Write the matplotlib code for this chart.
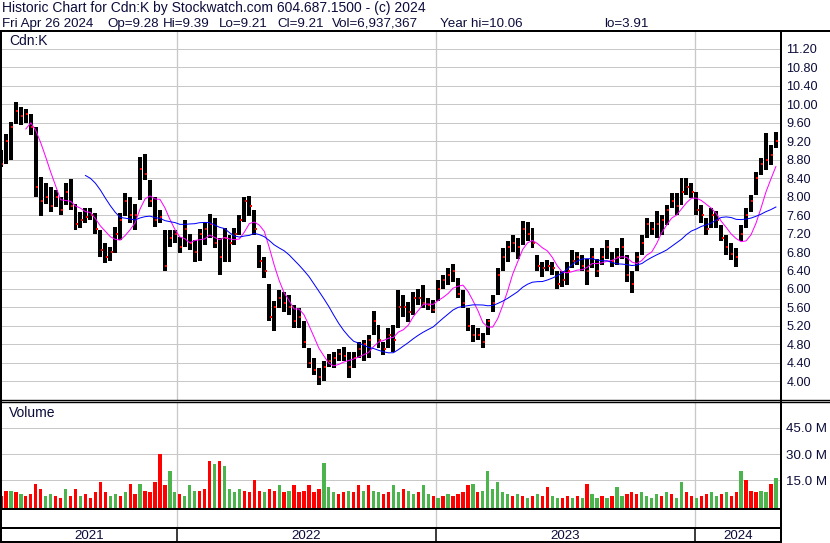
import numpy as np
import pandas as pd
import matplotlib
matplotlib.use("Agg")
import matplotlib.pyplot as plt
import matplotlib.dates as mdates
from matplotlib.lines import Line2D

plt.rcParams['font.family'] = ['Liberation Sans', 'DejaVu Sans']

# ---------------- data (weekly) ----------------
first_week = "2021-04-28"   # mid-week date of the first weekly bar
n_weeks = 157

high = [9.0, 9.35, 9.62, 10.06, 9.94, 9.9, 9.8, 9.5, 8.43, 8.29, 8.2, 8.14, 8.0, 8.29, 8.39, 7.85,
        7.67, 7.75, 7.75, 7.64, 7.28, 7.0, 6.92, 7.35, 7.64, 8.07, 8.0, 7.85, 8.86, 8.93, 8.36, 8.0,
        7.71, 7.28, 7.28, 7.28, 7.13, 7.5, 7.2, 7.06, 7.3, 7.46, 7.62, 7.53, 7.1, 7.31, 7.17, 7.31,
        7.6, 8.0, 8.01, 7.71, 6.95, 6.7, 6.1, 5.75, 5.98, 5.94, 5.87, 5.65, 5.58, 5.3, 4.72, 4.5,
        4.28, 4.43, 4.6, 4.64, 4.71, 4.75, 4.64, 4.64, 4.86, 4.9, 5.0, 5.52, 5.22, 4.86, 5.15, 5.22,
        5.98, 5.87, 5.72, 5.94, 6.01, 6.09, 5.8, 5.76, 6.2, 6.3, 6.45, 6.54, 6.23, 5.98, 5.58, 5.22,
        5.15, 5.04, 5.36, 5.87, 6.45, 6.88, 7.03, 7.17, 7.1, 7.47, 7.46, 7.31, 6.74, 6.59, 6.63, 6.59,
        6.38, 6.38, 6.59, 6.84, 6.81, 6.74, 6.66, 6.88, 6.66, 6.88, 7.05, 6.81, 6.88, 7.1, 6.74, 6.38,
        6.81, 7.17, 7.53, 7.46, 7.68, 7.6, 7.82, 8.07, 8.07, 8.4, 8.4, 8.29, 8.11, 7.82, 7.53, 7.75,
        7.68, 7.39, 7.17, 7.0, 6.88, 7.39, 7.75, 8.04, 8.54, 8.83, 9.37, 9.12, 9.39]

low = [8.65, 8.7, 8.8, 9.58, 9.55, 9.6, 9.33, 8.0, 7.57, 7.85, 7.67, 7.78, 7.6, 7.82, 7.71, 7.28,
       7.31, 7.42, 7.5, 7.2, 6.7, 6.56, 6.6, 6.77, 7.06, 7.57, 7.42, 7.28, 7.93, 8.36, 7.78, 7.35,
       7.42, 6.38, 6.92, 6.99, 6.77, 6.92, 6.85, 6.59, 6.6, 6.95, 7.1, 6.88, 6.3, 6.59, 6.59, 6.95,
       7.17, 7.46, 7.57, 7.17, 6.45, 6.23, 5.3, 5.1, 5.58, 5.51, 5.44, 5.15, 5.15, 4.72, 4.28, 4.14,
       3.91, 4.0, 4.32, 4.28, 4.43, 4.43, 4.07, 4.28, 4.5, 4.43, 4.5, 5.0, 4.72, 4.57, 4.72, 4.64,
       5.15, 5.4, 5.29, 5.44, 5.65, 5.58, 5.55, 5.47, 5.73, 6.01, 6.09, 6.16, 5.8, 5.58, 5.08, 4.86,
       4.9, 4.72, 5.0, 5.51, 5.87, 6.38, 6.59, 6.81, 6.66, 6.95, 7.03, 6.88, 6.38, 6.27, 6.38, 6.3,
       6.01, 6.05, 6.09, 6.45, 6.52, 6.38, 6.09, 6.45, 6.27, 6.52, 6.66, 6.48, 6.52, 6.66, 6.16, 5.91,
       6.38, 6.74, 7.1, 7.17, 7.1, 7.17, 7.38, 7.75, 7.6, 7.82, 8.04, 7.96, 7.6, 7.42, 7.17, 7.31,
       7.31, 7.03, 6.74, 6.63, 6.48, 7.03, 7.31, 7.67, 8.04, 8.47, 8.58, 8.69, 9.05]

close = [8.7, 9.2, 9.5, 9.85, 9.75, 9.8, 9.5, 8.2, 7.9, 8.0, 7.8, 8.0, 7.7, 8.1, 7.8, 7.4,
         7.5, 7.55, 7.6, 7.3, 6.85, 6.7, 6.8, 7.2, 7.5, 7.9, 7.6, 7.6, 8.6, 8.5, 7.9, 7.5,
         7.55, 6.5, 7.1, 7.2, 6.9, 7.3, 7.0, 6.8, 7.2, 7.3, 7.4, 7.0, 6.7, 7.1, 7.0, 7.2,
         7.5, 7.9, 7.8, 7.3, 6.6, 6.4, 5.4, 5.6, 5.8, 5.7, 5.6, 5.3, 5.4, 4.85, 4.4, 4.25,
         4.1, 4.3, 4.45, 4.5, 4.6, 4.55, 4.3, 4.5, 4.7, 4.8, 4.9, 5.3, 4.9, 4.7, 5.0, 4.9,
         5.6, 5.6, 5.5, 5.8, 5.8, 5.7, 5.65, 5.55, 6.0, 6.2, 6.3, 6.4, 5.9, 5.7, 5.2, 5.0,
         5.0, 4.85, 5.3, 5.7, 6.3, 6.7, 6.9, 7.0, 6.9, 7.3, 7.2, 7.0, 6.5, 6.45, 6.5, 6.45,
         6.1, 6.2, 6.4, 6.6, 6.7, 6.5, 6.4, 6.7, 6.4, 6.7, 6.9, 6.6, 6.7, 6.9, 6.3, 6.1,
         6.7, 7.0, 7.4, 7.3, 7.4, 7.5, 7.7, 7.9, 7.8, 8.1, 8.2, 8.1, 7.7, 7.6, 7.3, 7.6,
         7.5, 7.1, 6.9, 6.75, 6.7, 7.2, 7.6, 7.9, 8.4, 8.7, 8.8, 8.9, 9.21]

# volume in millions (typical daily height seen in each week) and up/down colour code
volume_m = [6, 9, 9, 8, 7, 6, 7, 13, 10, 6, 7, 6, 5, 10, 6, 10,
            6, 7, 5, 8, 14, 8, 6, 7, 6, 8, 13, 7, 13, 9, 8, 14,
            30, 12, 20, 8, 7, 6, 12, 9, 9, 10, 26, 24, 26, 23, 10, 8,
            10, 9, 8, 15, 9, 8, 10, 9, 12, 8, 9, 12, 8, 9, 12, 8,
            10, 25, 11, 8, 7, 8, 9, 8, 12, 9, 12, 9, 8, 7, 8, 12,
            8, 10, 9, 7, 8, 12, 7, 6, 5, 6, 7, 6, 7, 8, 12, 13,
            8, 9, 20, 10, 14, 8, 7, 6, 7, 6, 5, 6, 7, 6, 11, 6,
            5, 5, 6, 5, 6, 5, 13, 7, 5, 6, 5, 6, 11, 6, 7, 8,
            7, 8, 6, 5, 7, 6, 8, 7, 5, 14, 8, 6, 5, 6, 7, 8,
            6, 7, 8, 6, 8, 20, 15, 9, 8, 9, 8, 13, 16]
volume_dir = ("rrgrgrrrrggrrgrr" "grrrrrggrgrrgrrr" "rrggrgggrrrgrggg"
              "grrrrgrrgrgrrrrr" "rgggrrgrrgrggrrg" "grggrggrgrgrrrrg"
              "rggggggrgrgrgrrg" "grrgrgrggrgrggrr" "rggggrgrggrrgrrg"
              "grgrrgrrr" "ggrgrg")

price_ticks = [4.00, 4.40, 4.80, 5.20, 5.60, 6.00, 6.40, 6.80, 7.20, 7.60, 8.00,
               8.40, 8.80, 9.20, 9.60, 10.00, 10.40, 10.80, 11.20]
volume_ticks = [15, 30, 45]
year_labels = ["2021", "2022", "2023", "2024"]
year_starts = ["2022-01-01", "2023-01-01", "2024-01-01"]
x_range = ["2021-04-28", "2024-05-01 05:00"]

title_line1 = "Historic Chart for Cdn:K by Stockwatch.com 604.687.1500 - (c) 2024"
title_items = ["Fri Apr 26 2024", "Op=9.28", "Hi=9.39", "Lo=9.21", "Cl=9.21",
               "Vol=6,937,367", "Year hi=10.06", "lo=3.91"]
title_item_px = [2, 107, 163, 219, 277, 332, 440, 604]
symbol = "Cdn:K"

# ---------------- figure ----------------
W, H = 830, 543
fig = plt.figure(figsize=(W / 100, H / 100), dpi=100)
fig.patch.set_facecolor("white")
TXT = "#0c0c3a"
GRID = "#c8c8c8"
PT = 0.72  # points per pixel
FS = 10


def box(l, t, r, b):
    return [l / W, 1 - b / H, (r - l) / W, (b - t) / H]


dates = pd.date_range(first_week, periods=n_weeks, freq="7D")
xd = mdates.date2num(dates.to_pydatetime())
xlim = [mdates.date2num(pd.Timestamp(s).to_pydatetime()) for s in x_range]
ys = [mdates.date2num(pd.Timestamp(s).to_pydatetime()) for s in year_starts]

hi = np.array(high)
lo = np.array(low)
cl = pd.Series(close)
ma_fast = cl.rolling(6).mean()
ma_slow = cl.rolling(18).mean()

ax_p = fig.add_axes(box(1, 31, 781, 400))
ax_v = fig.add_axes(box(1, 402.5, 781, 508))
ax_b = fig.add_axes(box(1, 508, 781, 528))
ax_y = fig.add_axes(box(1, 528, 781, 542))

for ax in (ax_p, ax_v, ax_b, ax_y):
    ax.set_xlim(xlim)
    for s in ax.spines.values():
        s.set_visible(False)
    ax.set_xticks([])
    ax.set_facecolor("white")

# price panel
ax_p.set_ylim(3.595, 11.588)
ax_p.yaxis.tick_right()
ax_p.set_yticks(price_ticks)
ax_p.set_yticklabels([f"{v:.2f}" for v in price_ticks])
ax_p.tick_params(axis="y", length=0, pad=5.5 * PT, labelsize=9.1, labelcolor=TXT)
ax_p.grid(axis="y", color=GRID, lw=1.0 * PT)
ax_p.set_axisbelow(True)
for x in ys:
    ax_p.axvline(x, color=GRID, lw=1.3 * PT, zorder=0.5)
ax_p.bar(xd, hi - lo, bottom=lo, width=5.6, color="black", lw=0, zorder=2)
ax_p.plot(xd + 1.8, close, "s", ms=1.6, color="red", mew=0, zorder=3)
ax_p.plot(xd, ma_fast, color="#ff00ff", lw=1.0 * PT, zorder=4)
ax_p.plot(xd, ma_slow, color="#0000ff", lw=1.0 * PT, zorder=4)
ax_p.text(8 / 780, 1 - (41.3 - 31) / 369, symbol, transform=ax_p.transAxes,
          ha="left", va="center", fontsize=FS, color=TXT)

# volume panel
vbase = -1.0
ax_v.set_ylim(vbase, 59.6)
ax_v.yaxis.tick_right()
ax_v.set_yticks(volume_ticks)
ax_v.set_yticklabels([f"{v:.1f} M" for v in volume_ticks])
ax_v.tick_params(axis="y", length=0, pad=5 * PT, labelsize=9.6, labelcolor=TXT)
ax_v.grid(axis="y", color=GRID, lw=1.0 * PT)
ax_v.set_axisbelow(True)
for x in ys:
    ax_v.axvline(x, color=GRID, lw=1.3 * PT, zorder=0.5)
cmap = {"r": "#ff0000", "g": "#4cb44c"}
vcol = [cmap[c] for c in volume_dir]
vol = np.array(volume_m, dtype=float)
ax_v.bar(xd, vol - vbase, bottom=vbase, width=4.6, color=vcol, lw=0, zorder=2)
ax_v.text(8 / 780, 1 - (413 - 402.5) / 105.5, "Volume", transform=ax_v.transAxes,
          ha="left", va="center", fontsize=FS, color=TXT)

# empty band
ax_b.set_ylim(0, 1)
ax_b.set_yticks([])
for x in ys:
    ax_b.axvline(x, color=GRID, lw=1.3 * PT)

# year label band
ax_y.set_ylim(0, 1)
ax_y.set_yticks([])
edges = [xlim[0]] + ys + [xlim[1]]
for x in ys:
    ax_y.axvline(x, color="black", lw=1.5 * PT)
for i, lab in enumerate(year_labels):
    ax_y.text((edges[i] + edges[i + 1]) / 2, 0.42, lab, ha="center", va="center",
              fontsize=9.6, color=TXT)

# frame lines (pixel coordinates)
def hline(y, x0, x1, lw):
    fig.add_artist(Line2D([x0 / W, x1 / W], [1 - y / H, 1 - y / H], transform=fig.transFigure,
                          color="black", lw=lw * PT, solid_capstyle="butt"))


def vline(x, y0, y1, lw):
    fig.add_artist(Line2D([x / W, x / W], [1 - y0 / H, 1 - y1 / H], transform=fig.transFigure,
                          color="black", lw=lw * PT, solid_capstyle="butt"))


hline(31, 0, 830, 2)
hline(400, 0, 830, 1.4)
hline(402.3, 0, 830, 1.4)
hline(508.5, 0, 782, 2)
hline(528, 0, 782, 2)
hline(542, 0, 782, 2)
vline(1, 30, 543, 2)
vline(781, 30, 543, 2)

fig.text(2 / W, 1 - 12.3 / H, title_line1, ha="left", va="baseline", fontsize=FS, color=TXT)
for item, px in zip(title_items, title_item_px):
    fig.text(px / W, 1 - 26.6 / H, item, ha="left", va="baseline", fontsize=9.6, color=TXT)

fig.savefig("out.png", dpi=100, facecolor="white")
